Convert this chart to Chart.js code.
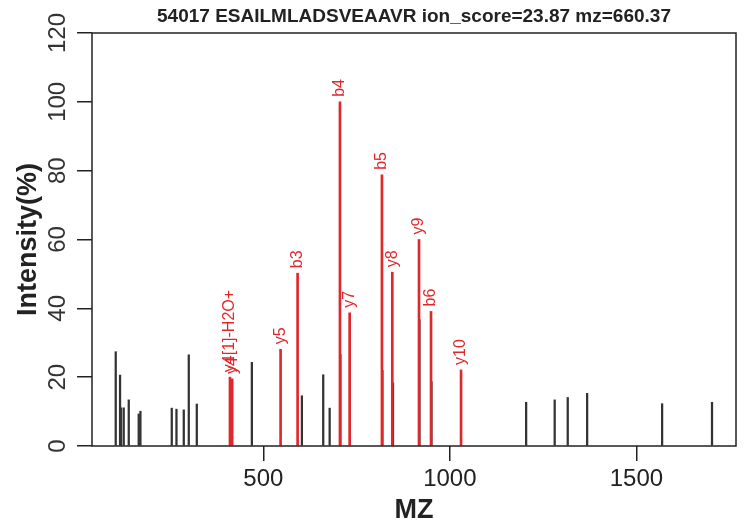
<!DOCTYPE html>
<html>
<head>
<meta charset="utf-8">
<script src="https://cdn.jsdelivr.net/npm/chart.js@4.4.1/dist/chart.umd.min.js"></script>
<style>
  html, body { margin: 0; padding: 0; background: #fff; }
  #wrap { width: 746px; height: 530px; }
</style>
</head>
<body>
<div id="wrap"><canvas id="spectrumChart" width="746" height="530"></canvas></div>
<script>
const chartTitle = "54017 ESAILMLADSVEAAVR ion_score=23.87 mz=660.37";

// unmatched peaks (black)
const otherMz = [104.4, 116, 118.6, 125.8, 139.3, 166, 170.6, 254.6, 267.2, 286.8, 300.2, 321.7,
  469.3, 603.4, 660.6, 677.8, 706.6, 819.2, 847.6, 918.5, 950.7,
  1204.5, 1281, 1316, 1368, 1569, 1702.7];
const otherIntensity = [27.4, 20.6, 11.1, 11.1, 13.4, 9.3, 10.1, 11.0, 10.7, 10.5, 26.5, 12.2,
  24.3, 14.6, 20.7, 11.0, 26.6, 22, 18.3, 36.7, 18.7,
  12.7, 13.4, 14.1, 15.3, 12.3, 12.7];

// matched fragment ions (red)
const matchedMz = [410.6, 416.5, 546.3, 591.9, 705.4, 731.4, 818, 845.7, 917.3, 949.5, 1030];
const matchedIntensity = [20, 19.5, 28.1, 50.2, 100, 38.7, 78.8, 50.5, 60, 39.1, 22.1];
const matchedLabels = ["y4[1]-H2O+", "y4", "y5", "b3", "b4", "y7", "b5", "y8", "y9", "b6", "y10"];

const xTicks = [500, 1000, 1500];
const yTicks = [0, 20, 40, 60, 80, 100, 120];

const RED = "#e0282c";
const INK = "#222222";

const toPoints = (xs, ys) => xs.map((x, i) => ({ x: x, y: ys[i] }));

// box, rotated y labels, axis titles, peak labels, title
const decorations = {
  id: "decorations",
  afterDraw(chart) {
    const ctx = chart.ctx;
    const area = chart.chartArea;
    const yScale = chart.scales.y;

    ctx.save();
    ctx.strokeStyle = INK;
    ctx.lineWidth = 1.5;
    ctx.strokeRect(area.left, area.top, area.right - area.left, area.bottom - area.top);

    // y tick labels, rotated like R
    ctx.fillStyle = "#333";
    ctx.font = "24px 'Liberation Sans', Arial, sans-serif";
    ctx.textAlign = "center";
    ctx.textBaseline = "middle";
    yTicks.forEach((v) => {
      ctx.save();
      ctx.translate(58, yScale.getPixelForValue(v));
      ctx.rotate(-Math.PI / 2);
      ctx.fillText(String(v), 0, 0);
      ctx.restore();
    });

    // axis titles
    ctx.fillStyle = INK;
    ctx.font = "bold 27px 'Liberation Sans', Arial, sans-serif";
    ctx.save();
    ctx.translate(29, (area.top + area.bottom) / 2);
    ctx.rotate(-Math.PI / 2);
    ctx.fillText("Intensity(%)", 0, 0);
    ctx.restore();
    ctx.fillText("MZ", (area.left + area.right) / 2, 511);

    // title
    ctx.font = "bold 19px 'Liberation Sans', Arial, sans-serif";
    ctx.fillText(chartTitle, (area.left + area.right) / 2, 17);

    // fragment labels above red peaks
    const meta = chart.getDatasetMeta(0);
    ctx.fillStyle = RED;
    ctx.font = "16px 'Liberation Sans', Arial, sans-serif";
    ctx.textAlign = "left";
    meta.data.forEach((bar, i) => {
      ctx.save();
      ctx.translate(bar.x, bar.y - 5);
      ctx.rotate(-Math.PI / 2);
      ctx.fillText(matchedLabels[i], 0, 0);
      ctx.restore();
    });
    ctx.restore();
  },
};

new Chart(document.getElementById("spectrumChart"), {
  type: "bar",
  data: {
    datasets: [
      {
        label: "matched",
        data: toPoints(matchedMz, matchedIntensity),
        backgroundColor: RED,
        barThickness: 2,
        stack: "peaks",
      },
      {
        label: "other",
        data: toPoints(otherMz, otherIntensity),
        backgroundColor: "#333333",
        barThickness: 1.6,
        stack: "peaks",
      },
    ],
  },
  options: {
    responsive: false,
    animation: false,
    layout: {
      padding: { top: 33, right: 10, left: 0, bottom: 0 },
    },
    plugins: {
      legend: { display: false },
      tooltip: { enabled: false },
      title: { display: false },
    },
    scales: {
      x: {
        type: "linear",
        offset: false,
        min: 40.8,
        max: 1767,
        afterBuildTicks: (scale) => {
          scale.ticks = xTicks.map((v) => ({ value: v }));
        },
        afterFit: (scale) => {
          scale.height = 84;
        },
        grid: {
          offset: false,
          drawOnChartArea: false,
          drawTicks: true,
          tickLength: 15,
          color: INK,
          lineWidth: 1.5,
        },
        border: { display: false },
        ticks: {
          color: INK,
          font: { size: 24, family: "'Liberation Sans', Arial, sans-serif" },
          padding: 4,
          maxRotation: 0,
          callback: (v) => String(v),
        },
      },
      y: {
        min: 0,
        max: 120,
        stacked: false,
        afterBuildTicks: (scale) => {
          scale.ticks = yTicks.map((v) => ({ value: v }));
        },
        afterFit: (scale) => {
          scale.width = 92;
        },
        grid: {
          offset: false,
          drawOnChartArea: false,
          drawTicks: true,
          tickLength: 15,
          color: INK,
          lineWidth: 1.5,
        },
        border: { display: false },
        ticks: { display: false },
      },
    },
  },
  plugins: [decorations],
});
</script>
</body>
</html>
